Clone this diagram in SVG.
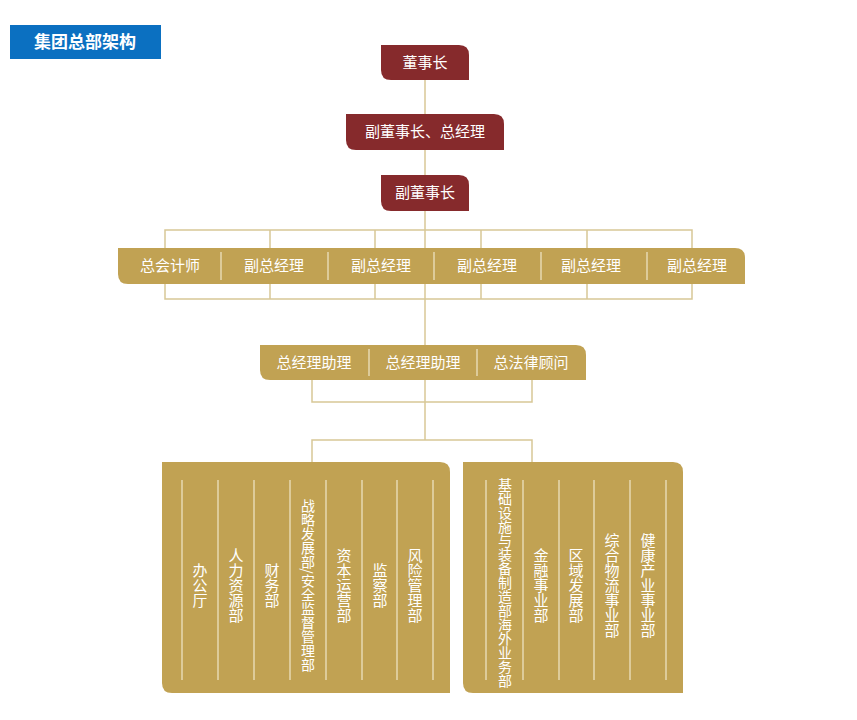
<svg xmlns="http://www.w3.org/2000/svg" width="857" height="720" viewBox="0 0 857 720">
<style>
text{font-family:"Noto Sans CJK SC","Noto Sans",sans-serif;fill:#fff;}
.h{font-size:15px;text-anchor:middle;}
.v{font-size:15px;text-anchor:middle;writing-mode:vertical-rl;}
.red{fill:#862a2c;}
.gold{fill:#c1a253;}
.ln{stroke:#d8c796;stroke-width:1.5;fill:none;}
.dv{stroke:#f1e7c9;stroke-width:1.2;}
</style>
<rect x="10" y="25" width="151" height="34" fill="#0b70c1"/>
<text x="85" y="48" font-size="17" font-weight="bold" text-anchor="middle">集团总部架构</text>
<g id="connectors" class="ln">
<path d="M425 80V440"/>
<path d="M165 248V230H692V248M270 230V248M375 230V248M481 230V248M587 230V248"/>
<path d="M165 284V299H692V284M270 284V299M375 284V299M481 284V299M587 284V299"/>
<path d="M312 380V402H532V380"/>
<path d="M312 462V440H532V462"/>
</g>
<g id="n1"><path class="red" d="M381 45H459Q469 45 469 55V80H391Q381 80 381 70Z"/><text class="h" x="425" y="68">董事长</text></g>
<g id="n2"><path class="red" d="M346 114H494Q504 114 504 124V150H356Q346 150 346 140Z"/><text class="h" x="425" y="137">副董事长、总经理</text></g>
<g id="n3"><path class="red" d="M381 175H459Q469 175 469 185V211H391Q381 211 381 201Z"/><text class="h" x="425" y="198">副董事长</text></g>
<g id="bar1"><path class="gold" d="M118 248H735Q745 248 745 258V284H128Q118 284 118 274Z"/>
<g class="dv"><path d="M221 252V280M328 252V280M434 252V280M541 252V280M647 252V280"/></g>
<text class="h" x="170" y="271">总会计师</text><text class="h" x="274" y="271">副总经理</text><text class="h" x="381" y="271">副总经理</text><text class="h" x="487" y="271">副总经理</text><text class="h" x="591" y="271">副总经理</text><text class="h" x="697" y="271">副总经理</text></g>
<g id="bar2"><path class="gold" d="M260 345H576Q586 345 586 355V380H270Q260 380 260 370Z"/>
<g class="dv"><path d="M369 349V376M477 349V376"/></g>
<text class="h" x="314" y="368">总经理助理</text><text class="h" x="423" y="368">总经理助理</text><text class="h" x="531" y="368">总法律顾问</text></g>
<g id="box1"><path class="gold" d="M162 462H440Q450 462 450 472V693H172Q162 693 162 683Z"/>
<g class="dv"><path d="M182 480V680M218 480V680M254 480V680M290 480V680M326 480V680M362 480V680M397 480V680M433 480V680"/></g>
<text class="v" x="200" y="585">办公厅</text><text class="v" x="236" y="585">人力资源部</text><text class="v" x="272" y="585">财务部</text>
<text class="v" x="308" y="585" style="font-size:14px">战略发展部/安全监督管理部</text>
<text class="v" x="344" y="585">资本运营部</text><text class="v" x="380" y="585">监察部</text><text class="v" x="415" y="585">风险管理部</text></g>
<g id="box2"><path class="gold" d="M463 462H673Q683 462 683 472V693H473Q463 693 463 683Z"/>
<g class="dv"><path d="M486 480V680M523 480V680M559 480V680M594 480V680M630 480V680M666 480V680"/></g>
<text class="v" x="505" y="583" style="font-size:14px">基础设施与装备制造部海外业务部</text>
<text class="v" x="541" y="585">金融事业部</text><text class="v" x="576" y="585">区域发展部</text><text class="v" x="612" y="585">综合物流事业部</text><text class="v" x="648" y="585">健康产业事业部</text></g>
</svg>
